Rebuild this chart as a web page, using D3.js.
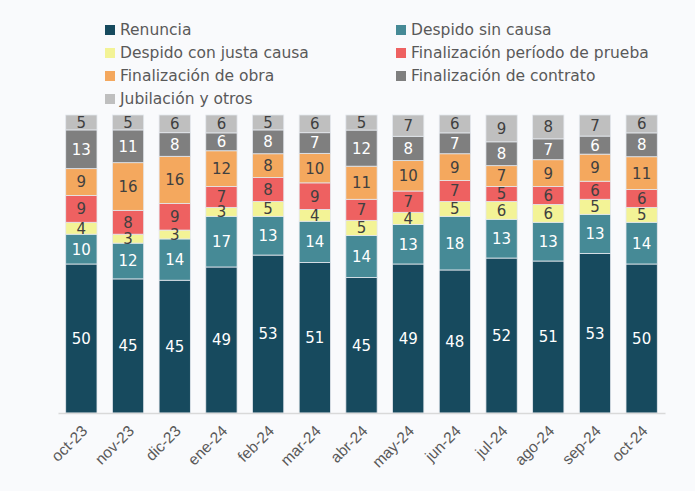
<!DOCTYPE html>
<html>
<head>
<meta charset="utf-8">
<script src="https://cdn.jsdelivr.net/npm/d3@7"></script>
<style>
  body { margin: 0; background: #f9fafc; }
  svg { font-family: "DejaVu Sans", sans-serif; }
</style>
</head>
<body>
<div id="chart"></div>
<script>
// months on the x axis
var months = ["oct-23","nov-23","dic-23","ene-24","feb-24","mar-24","abr-24",
              "may-24","jun-24","jul-24","ago-24","sep-24","oct-24"];

// series values (%)
var renuncia      = [50,45,45,49,53,51,45,49,48,52,51,53,50];
var despidoSin    = [10,12,14,17,13,14,14,13,18,13,13,13,14];
var despidoJusta  = [4,3,3,3,5,4,5,4,5,6,6,5,5];
var periodoPrueba = [9,8,9,7,8,9,7,7,7,5,6,6,6];
var obra          = [9,16,16,12,8,10,11,10,9,7,9,9,11];
var contrato      = [13,11,8,6,8,7,12,8,7,8,7,6,8];
var jubilacion    = [5,5,6,6,5,6,5,7,6,9,8,7,6];

var seriesNames = ["Renuncia","Despido sin causa","Despido con justa causa",
  "Finalización período de prueba","Finalización de obra",
  "Finalización de contrato","Jubilación y otros"];
var seriesValues = [renuncia, despidoSin, despidoJusta, periodoPrueba, obra, contrato, jubilacion];
var colors = ["#174a5e","#468a96","#f3f396","#ee6161","#f4a85e","#7f7f7f","#bfbfbf"];
var labelColors = ["#fff","#fff","#404040","#404040","#404040","#fff","#404040"];

var width = 695, height = 491;

var svg = d3.select("#chart").append("svg")
  .attr("width", width)
  .attr("height", height);

// table for d3.stack
var table = months.map(function(m, i) {
  var row = {month: m};
  seriesNames.forEach(function(s, j) { row[s] = seriesValues[j][i]; });
  return row;
});

var stack = d3.stack().keys(seriesNames).offset(d3.stackOffsetExpand);
var stacked = stack(table);

var x = d3.scaleBand()
  .domain(months)
  .range([58, 665])
  .paddingInner(0.33)
  .paddingOuter(0.165);

var y = d3.scaleLinear()
  .domain([0, 1])
  .range([413, 115]);

// bars
var groups = svg.append("g").selectAll("g")
  .data(stacked)
  .enter().append("g")
    .attr("fill", function(d, i) { return colors[i]; });

groups.selectAll("rect")
  .data(function(d) { return d; })
  .enter().append("rect")
    .attr("x", function(d) { return x(d.data.month); })
    .attr("y", function(d) { return y(d[1]); })
    .attr("height", function(d) { return y(d[0]) - y(d[1]); })
    .attr("width", x.bandwidth())
    .attr("stroke", "#e4e8ee")
    .attr("stroke-width", 0.8);

// value labels
stacked.forEach(function(s, i) {
  svg.append("g").selectAll("text")
    .data(s)
    .enter().append("text")
      .attr("x", function(d) { return x(d.data.month) + x.bandwidth() / 2; })
      .attr("y", function(d) { return (y(d[0]) + y(d[1])) / 2; })
      .attr("dy", "0.36em")
      .attr("text-anchor", "middle")
      .style("font-size", "15px")
      .style("fill", labelColors[i])
      .text(function(d) { return d.data[s.key]; });
});

// x axis
var xAxis = svg.append("g")
  .attr("transform", "translate(0,413)")
  .call(d3.axisBottom(x).tickSize(0).tickPadding(8));
xAxis.select(".domain").attr("stroke", "#d9d9d9").attr("stroke-width", 1.5);
xAxis.selectAll("text")
  .style("font-size", "15.5px")
  .style("fill", "#595959")
  .attr("text-anchor", "end")
  .attr("x", 0).attr("y", 0)
  .attr("dx", 0).attr("dy", 0)
  .attr("transform", "translate(7,19) rotate(-45)");

// legend, two columns
var legend = svg.append("g");
seriesNames.forEach(function(name, i) {
  var col = i % 2, row = Math.floor(i / 2);
  var lx = col === 0 ? 105 : 396;
  var ly = 30 + row * 23;
  legend.append("rect")
    .attr("x", lx).attr("y", ly - 5)
    .attr("width", 10).attr("height", 10)
    .attr("fill", colors[i]);
  legend.append("text")
    .attr("x", lx + 15).attr("y", ly)
    .attr("dy", "0.35em")
    .style("font-size", "15.5px")
    .style("fill", "#595959")
    .text(name);
});
</script>
</body>
</html>
